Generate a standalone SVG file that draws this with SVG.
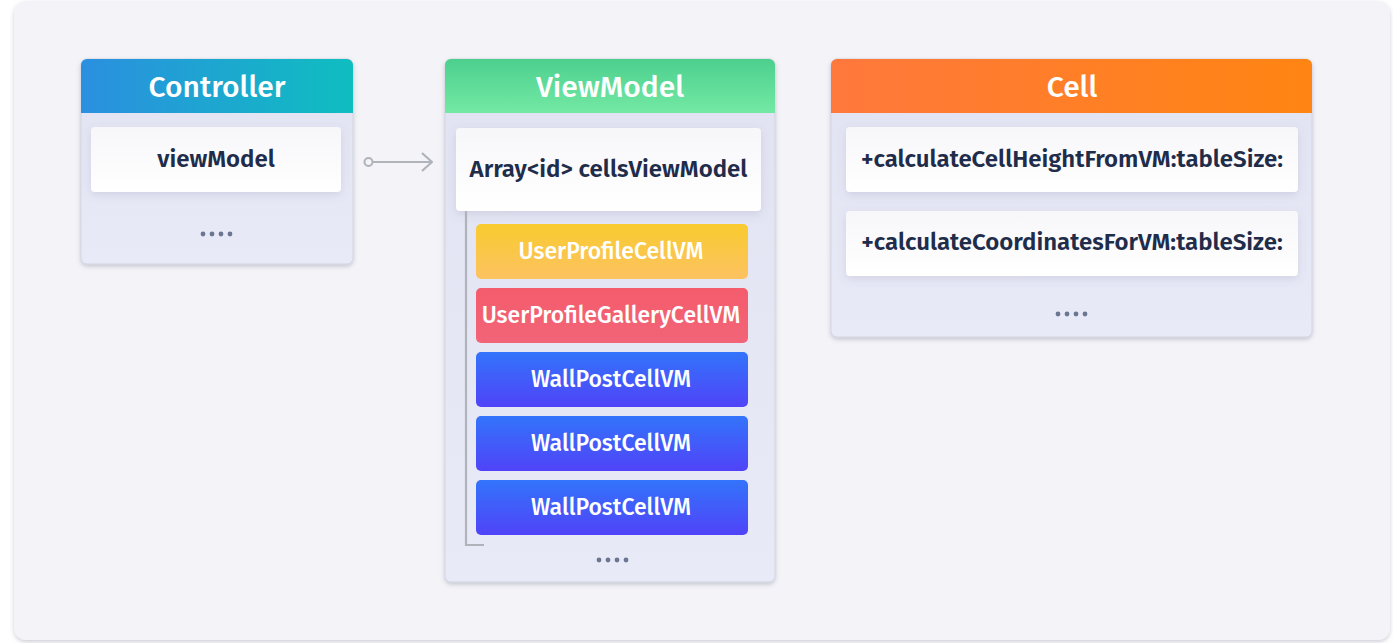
<svg xmlns="http://www.w3.org/2000/svg" width="1393" height="643" viewBox="0 0 1393 643">
<style>
.hdr{font-family:"Fira Sans","Noto Sans","Open Sans",sans-serif;font-weight:500;font-size:30px;fill:#ffffff;text-anchor:middle}
.fld{font-family:"Fira Sans","Noto Sans","Open Sans",sans-serif;font-weight:600;font-size:24px;fill:#1f2d4b;text-anchor:middle}
.itm{font-family:"Fira Sans","Noto Sans","Open Sans",sans-serif;font-weight:500;font-size:23px;fill:#ffffff;text-anchor:middle}
.dots{fill:#6b7790}
.body{fill:url(#gBody);stroke:#d3d5e2;stroke-width:1}
.card{fill:url(#gCard)}
.conn{stroke:#b1b3ba;stroke-width:2.2;fill:none}
</style>
<defs>
<filter id="sh" x="-10%" y="-10%" width="120%" height="130%">
<feDropShadow dx="0" dy="2" stdDeviation="2" flood-color="#5a5f7a" flood-opacity="0.3"/>
</filter>
<filter id="shs" x="-10%" y="-20%" width="120%" height="150%">
<feDropShadow dx="0" dy="3" stdDeviation="4" flood-color="#6a6f90" flood-opacity="0.18"/>
</filter>
<linearGradient id="gBody" x1="0" y1="0" x2="0" y2="1">
<stop offset="0" stop-color="#e1e3f2"/>
<stop offset="1" stop-color="#e9eaf7"/>
</linearGradient>
<linearGradient id="gCard" x1="0" y1="0" x2="0" y2="1">
<stop offset="0" stop-color="#f7f7fa"/>
<stop offset="1" stop-color="#ffffff"/>
</linearGradient>
<linearGradient id="gCtrl" x1="0" y1="0" x2="1" y2="0">
<stop offset="0" stop-color="#2b8fe0"/>
<stop offset="1" stop-color="#0fbec0"/>
</linearGradient>
<linearGradient id="gVM" x1="0" y1="0" x2="0" y2="1">
<stop offset="0" stop-color="#4ccf8e"/>
<stop offset="1" stop-color="#74e9a5"/>
</linearGradient>
<linearGradient id="gCell" x1="0" y1="0" x2="1" y2="0">
<stop offset="0" stop-color="#ff783c"/>
<stop offset="1" stop-color="#ff8512"/>
</linearGradient>
<linearGradient id="gY" x1="0" y1="0" x2="0" y2="1">
<stop offset="0" stop-color="#f9cb2f"/>
<stop offset="1" stop-color="#fcc261"/>
</linearGradient>
<linearGradient id="gR" x1="0" y1="0" x2="0" y2="1">
<stop offset="0" stop-color="#f45c6c"/>
<stop offset="1" stop-color="#f26478"/>
</linearGradient>
<linearGradient id="gB" x1="0" y1="0" x2="0" y2="1">
<stop offset="0" stop-color="#3374fb"/>
<stop offset="1" stop-color="#5043f8"/>
</linearGradient>
<marker id="arr" viewBox="0 0 12 20" refX="11" refY="10" markerWidth="12" markerHeight="20" markerUnits="userSpaceOnUse" orient="auto">
<path d="M1,1 L11,10 L1,19" fill="none" stroke="#b1b3ba" stroke-width="2.2"/>
</marker>
</defs>

<rect x="0" y="0" width="1393" height="643" fill="#ffffff"/>
<rect x="14" y="1" width="1376" height="639" rx="12" fill="#f3f3f8" filter="url(#sh)"/>

<g id="controller">
<rect class="body" x="81" y="59" width="272" height="205" rx="6" filter="url(#sh)"/>
<path d="M81,65 a6,6 0 0 1 6,-6 h260 a6,6 0 0 1 6,6 v48 h-272 z" fill="url(#gCtrl)"/>
<text class="hdr" x="217" y="97">Controller</text>
<rect class="card" x="91" y="127" width="250" height="65" rx="4" filter="url(#shs)"/>
<text class="fld" x="216" y="167">viewModel</text>
<g class="dots"><circle cx="203" cy="234" r="2.4"/><circle cx="212" cy="234" r="2.4"/><circle cx="221" cy="234" r="2.4"/><circle cx="230" cy="234" r="2.4"/></g>
</g>

<g id="viewmodel">
<rect class="body" x="445" y="59" width="330" height="523" rx="6" filter="url(#sh)"/>
<path d="M445,65 a6,6 0 0 1 6,-6 h318 a6,6 0 0 1 6,6 v48 h-330 z" fill="url(#gVM)"/>
<text class="hdr" x="610" y="97">ViewModel</text>
<rect class="card" x="456" y="128" width="305" height="83" rx="4" filter="url(#shs)"/>
<text class="fld" x="608.5" y="177">Array&lt;id&gt; cellsViewModel</text>
<rect x="476" y="224" width="272" height="55" rx="5" fill="url(#gY)"/>
<text class="itm" x="611" y="258.5">UserProfileCellVM</text>
<rect x="476" y="288" width="272" height="55" rx="5" fill="url(#gR)"/>
<text class="itm" x="611" y="322.5">UserProfileGalleryCellVM</text>
<rect x="476" y="352" width="272" height="55" rx="5" fill="url(#gB)"/>
<text class="itm" x="611" y="386.5">WallPostCellVM</text>
<rect x="476" y="416" width="272" height="55" rx="5" fill="url(#gB)"/>
<text class="itm" x="611" y="450.5">WallPostCellVM</text>
<rect x="476" y="480" width="272" height="55" rx="5" fill="url(#gB)"/>
<text class="itm" x="611" y="514.5">WallPostCellVM</text>
<g class="dots"><circle cx="599" cy="560" r="2.4"/><circle cx="608" cy="560" r="2.4"/><circle cx="617" cy="560" r="2.4"/><circle cx="626" cy="560" r="2.4"/></g>
</g>

<g id="cell">
<rect class="body" x="831" y="59" width="481" height="278" rx="6" filter="url(#sh)"/>
<path d="M831,65 a6,6 0 0 1 6,-6 h469 a6,6 0 0 1 6,6 v48 h-481 z" fill="url(#gCell)"/>
<text class="hdr" x="1072" y="97">Cell</text>
<rect class="card" x="846" y="127" width="452" height="65" rx="4" filter="url(#shs)"/>
<text class="fld" x="1072" y="167">+calculateCellHeightFromVM:tableSize:</text>
<rect class="card" x="846" y="211" width="452" height="65" rx="4" filter="url(#shs)"/>
<text class="fld" x="1072" y="250">+calculateCoordinatesForVM:tableSize:</text>
<g class="dots"><circle cx="1058" cy="314" r="2.4"/><circle cx="1067" cy="314" r="2.4"/><circle cx="1076" cy="314" r="2.4"/><circle cx="1085" cy="314" r="2.4"/></g>
</g>

<g id="connectors">
<circle cx="368.5" cy="162" r="4" fill="#f3f3f8" stroke="#b1b3ba" stroke-width="2"/>
<line class="conn" x1="372.5" y1="162" x2="432" y2="162" marker-end="url(#arr)"/>
<path class="conn" d="M466,211 V545 H484"/>
</g>
</svg>
